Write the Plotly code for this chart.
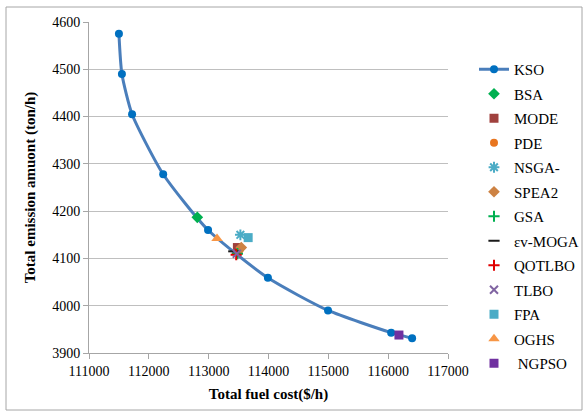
import plotly.graph_objects as go

kso_cost = [111500, 111550, 111720, 112240, 112990, 113990, 114995, 116050, 116400]
kso_emis = [4575, 4490, 4405, 4278, 4160, 4059, 3990, 3943, 3931]

methods = ["BSA", "MODE", "PDE", "NSGA-", "SPEA2", "GSA", "\u03b5v-MOGA", "QOTLBO", "TLBO", "FPA", "OGHS", " NGPSO"]
m_cost = [112810, 113480, 113520, 113530, 113545, 113480, 113420, 113460, 113470, 113660, 113140, 116180]
m_emis = [4187, 4123, 4119, 4150, 4123, 4110, 4115, 4108, 4110, 4144, 4142, 3938]
m_symbol = ["diamond", "square", "circle", "asterisk", "diamond", "cross-thin", "line-ew", "cross-thin", "x-thin", "square", "triangle-up", "square"]
m_color = ["#00B050", "#A0413E", "#E8751F", "#4BACC6", "#CD8243", "#00B050", "#1A1A1A", "#E00000", "#8064A2", "#4BACC6", "#F79646", "#7030A0"]
m_size = [9, 9, 8, 9, 9, 8, 8, 8, 8, 9, 10, 9]

x_ticks = [111000, 112000, 113000, 114000, 115000, 116000, 117000]
y_ticks = [3900, 4000, 4100, 4200, 4300, 4400, 4500, 4600]

FONT = "Liberation Serif, Times New Roman, serif"

fig = go.Figure()
fig.add_trace(go.Scatter(
    x=kso_cost, y=kso_emis, mode="lines+markers", name="KSO",
    line=dict(color="#4A7EBB", width=3, shape="spline", smoothing=0.6),
    marker=dict(color="#0070C0", size=8, symbol="circle"),
    legendgroup="g0",
))
for i, (n, c, e, s, col, sz) in enumerate(zip(methods, m_cost, m_emis, m_symbol, m_color, m_size)):
    thin = s in ("asterisk", "cross-thin", "x-thin", "line-ew")
    marker = dict(symbol=s, size=sz, color=col)
    if thin:
        marker["line"] = dict(color=col, width=2)
    else:
        marker["line"] = dict(width=0)
    fig.add_trace(go.Scatter(x=[c], y=[e], mode="markers", name=n, marker=marker,
                             legendgroup="g%d" % (i + 1)))

W, H = 588, 415
L, R, T, B = 89, 140, 22, 62
pw, ph = W - L - R, H - T - B

fig.update_layout(
    width=W, height=H,
    margin=dict(l=L, r=R, t=T, b=B, autoexpand=False),
    paper_bgcolor="white", plot_bgcolor="white",
    font=dict(family=FONT, size=14, color="black"),
    showlegend=True,
    legend=dict(x=(474 - L) / pw, y=(H - 53 - B) / ph, xanchor="left", yanchor="top",
                font=dict(family=FONT, size=15, color="black"),
                bgcolor="rgba(0,0,0,0)", tracegroupgap=2, itemwidth=30),
    xaxis=dict(range=[111000, 117000], tickvals=x_ticks, ticktext=[str(v) for v in x_ticks],
               showgrid=False, zeroline=False, showline=True, linecolor="#A6A6A6", linewidth=1,
               ticks="outside", ticklen=5, tickcolor="#A6A6A6",
               title=dict(text="<b>Total fuel cost($/h)</b>", font=dict(family=FONT, size=15), standoff=10),
               tickfont=dict(family=FONT, size=14)),
    yaxis=dict(range=[3900, 4600], tickvals=y_ticks, ticktext=[str(v) for v in y_ticks],
               showgrid=True, gridcolor="#BFBFBF", gridwidth=1, zeroline=False,
               showline=True, linecolor="#A6A6A6", linewidth=1,
               ticks="outside", ticklen=5, tickcolor="#A6A6A6",
               title=dict(text="<b>Total emission amuont (ton/h)</b>", font=dict(family=FONT, size=15), standoff=12),
               tickfont=dict(family=FONT, size=14)),
)
# chart-area border
fig.add_shape(type="rect", xref="paper", yref="paper",
              x0=(6 - L) / pw, x1=(582 - L) / pw,
              y0=(H - 410 - B) / ph, y1=(H - 7 - B) / ph,
              line=dict(color="#A6A6A6", width=1), fillcolor="rgba(0,0,0,0)", layer="below")

fig.write_html("out.html")
